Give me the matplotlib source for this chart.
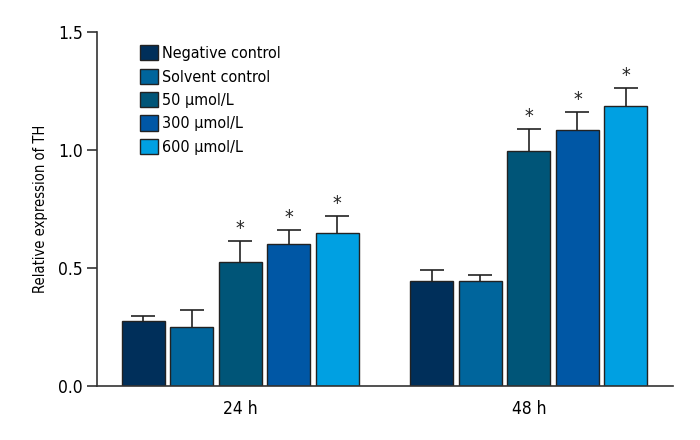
import matplotlib as mpl
mpl.use('Agg')
import matplotlib.pyplot as plt
from matplotlib import font_manager
import numpy as np

# a narrow face looks closest to the original; fall back to condensed DejaVu
names = set(f.name for f in font_manager.fontManager.ttflist)
if 'Liberation Sans Narrow' in names:
    plt.rcParams['font.family'] = ['Liberation Sans Narrow', 'DejaVu Sans']
else:
    plt.rcParams['font.family'] = ['DejaVu Sans']
    plt.rcParams['font.stretch'] = 'condensed'

groups = ['24 h', '48 h']
series = ['Negative control', 'Solvent control', '50 \u03bcmol/L', '300 \u03bcmol/L', '600 \u03bcmol/L']
colors = ['#002f5a', '#00659c', '#005578', '#0057a5', '#00a0e2']

# mean values per series, [24 h, 48 h]
means = [
    [0.274, 0.444],
    [0.249, 0.444],
    [0.525, 0.995],
    [0.603, 1.087],
    [0.648, 1.185],
]
# error (SD), only the upper half shows above the bar
errs = [
    [0.024, 0.046],
    [0.074, 0.025],
    [0.090, 0.096],
    [0.057, 0.075],
    [0.072, 0.079],
]
signif = [
    [False, False],
    [False, False],
    [True, True],
    [True, True],
    [True, True],
]

fig = plt.figure(figsize=(7, 4.4), dpi=100)
ax = fig.add_axes([0.139, 0.123, 0.822, 0.804])

x = np.arange(len(groups))
pitch = 0.168
width = 0.149
for i, name in enumerate(series):
    pos = x + (i - 2) * pitch
    ax.bar(pos, means[i], width, color=colors[i], edgecolor='#222222',
           linewidth=1.0, label=name, zorder=2)
    ax.errorbar(pos, means[i], yerr=errs[i], fmt='none',
                ecolor='#222222', elinewidth=1.2, capsize=8.5, capthick=1.2, zorder=1)
    for j in range(len(groups)):
        if signif[i][j]:
            ax.annotate('*', (pos[j], means[i][j] + errs[i][j]), xytext=(0, 2),
                        textcoords='offset points', ha='center', va='bottom',
                        fontsize=14, color='#222222')

ax.set_xlim(-0.495, 1.498)
ax.set_ylim(0, 1.5)
ax.set_yticks([0.0, 0.5, 1.0, 1.5])
ax.set_yticklabels(['0.0', '0.5', '1.0', '1.5'])
ax.set_xticks(x)
ax.set_xticklabels(groups)
ax.tick_params(axis='x', length=0, labelsize=12.5, pad=10)
ax.tick_params(axis='y', length=7, width=1.2, labelsize=12.5, direction='out', color='#333333')
ax.set_ylabel('Relative expression of TH', fontsize=10.5, labelpad=7)
for s in ['top', 'right']:
    ax.spines[s].set_visible(False)
for s in ['left', 'bottom']:
    ax.spines[s].set_linewidth(1.2)
    ax.spines[s].set_color('#333333')

ax.legend(loc='upper left', bbox_to_anchor=(0.055, 0.995), frameon=False, fontsize=11.5,
          handlelength=1.1, handleheight=1.1, handletextpad=0.3, labelspacing=0.46,
          borderaxespad=0.3)

plt.savefig('out.png', dpi=100)
